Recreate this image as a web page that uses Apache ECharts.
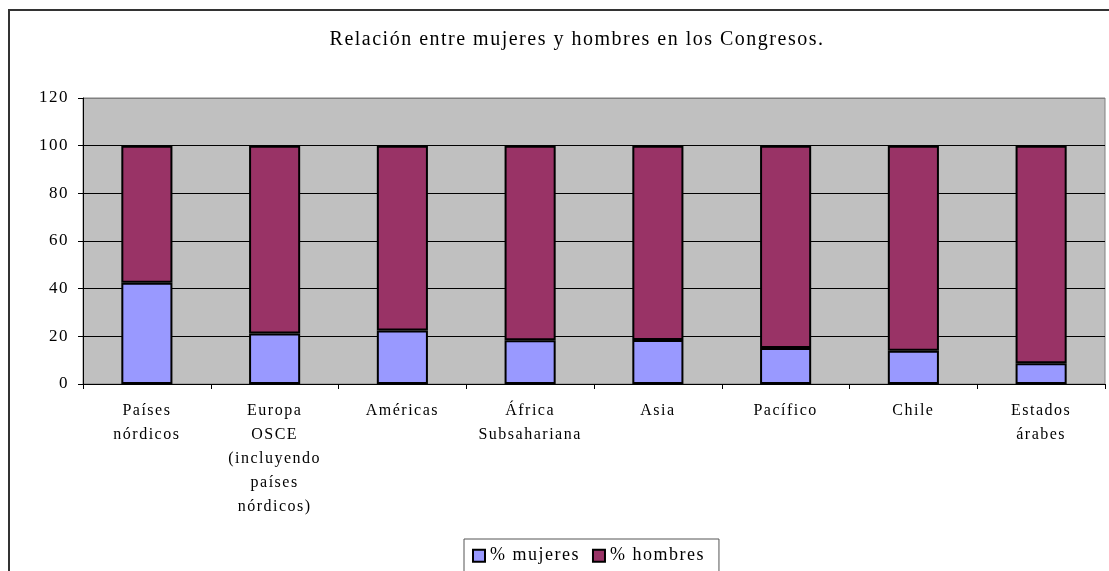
<!DOCTYPE html>
<html>
<head>
<meta charset="utf-8">
<script src="https://cdn.jsdelivr.net/npm/echarts@6/dist/echarts.min.js"></script>
<style>
  html, body { margin: 0; padding: 0; background: #fff; }
  #chart { width: 1109px; height: 571px; }
</style>
</head>
<body>
<div id="chart"></div>
<script>
// datos
var regiones = ['Países\nnórdicos', 'Europa\nOSCE\n(incluyendo\npaíses\nnórdicos)', 'Américas',
    'África\nSubsahariana', 'Asia', 'Pacífico', 'Chile', 'Estados\nárabes'];
var mujeres = [42.5, 21.2, 22.5, 18.4, 18.5, 15.1, 13.9, 8.7];
var hombres = [57.5, 78.8, 77.5, 81.6, 81.5, 84.9, 86.1, 91.3];
var yTicks = [0, 20, 40, 60, 80, 100, 120];

var fuente = '"Liberation Serif", "Times New Roman", serif';

// el texto de Excel sale más espaciado: letterSpacing en el canvas (medir y pintar igual)
(function () {
    var proto = CanvasRenderingContext2D.prototype;
    var fill = proto.fillText, measure = proto.measureText;
    proto.fillText = function () { this.letterSpacing = '1.5px'; return fill.apply(this, arguments); };
    proto.measureText = function () { this.letterSpacing = '1.5px'; return measure.apply(this, arguments); };
})();

var myChart = echarts.init(document.getElementById('chart'));
myChart.setOption({
    animation: false,
    backgroundColor: '#fff',
    title: {
        text: 'Relación entre mujeres y hombres en los Congresos.',
        left: 572,
        textAlign: 'center',
        top: 24,
        textStyle: { fontFamily: fuente, fontSize: 20, fontWeight: 'normal', color: '#000' }
    },
    graphic: [{
        type: 'rect',
        shape: { x: 9, y: 10, width: 1200, height: 700 },
        style: { fill: 'none', stroke: '#333', lineWidth: 2 },
        silent: true
    }],
    legend: {
        left: 464,
        top: 539,
        padding: [7, 14, 7, 8],
        itemWidth: 12,
        itemHeight: 12,
        itemGap: 12,
        borderColor: '#555',
        borderWidth: 1,
        icon: 'rect',
        textStyle: { fontFamily: fuente, fontSize: 18, color: '#000' },
        data: ['% mujeres', '% hombres']
    },
    grid: {
        left: 83,
        right: 4,
        top: 98,
        bottom: 187,
        show: true,
        backgroundColor: '#c0c0c0',
        borderColor: '#808080',
        borderWidth: 1
    },
    xAxis: {
        type: 'category',
        data: regiones,
        axisLine: { lineStyle: { color: '#000', width: 1 } },
        axisTick: { show: true, length: 5, lineStyle: { color: '#000' } },
        axisLabel: {
            interval: 0,
            margin: 15,
            lineHeight: 24,
            fontFamily: fuente,
            fontSize: 16,
            color: '#000'
        }
    },
    yAxis: {
        type: 'value',
        min: yTicks[0],
        max: yTicks[yTicks.length - 1],
        interval: 20,
        axisLine: { show: true, lineStyle: { color: '#000' } },
        axisTick: { show: true, length: 5, lineStyle: { color: '#000' } },
        axisLabel: { margin: 14, fontFamily: fuente, fontSize: 17, color: '#000' },
        splitLine: {
            lineStyle: { color: ['#000', '#000', '#000', '#000', '#000', '#000', '#808080'], width: 1 }
        }
    },
    series: [
        {
            name: '% mujeres',
            type: 'bar',
            stack: 'total',
            barWidth: '40%',
            data: mujeres,
            itemStyle: { color: '#9999ff', borderColor: '#000', borderWidth: 2 }
        },
        {
            name: '% hombres',
            type: 'bar',
            stack: 'total',
            barWidth: '40%',
            data: hombres,
            itemStyle: { color: '#993366', borderColor: '#000', borderWidth: 2 }
        }
    ]
});
</script>
</body>
</html>
